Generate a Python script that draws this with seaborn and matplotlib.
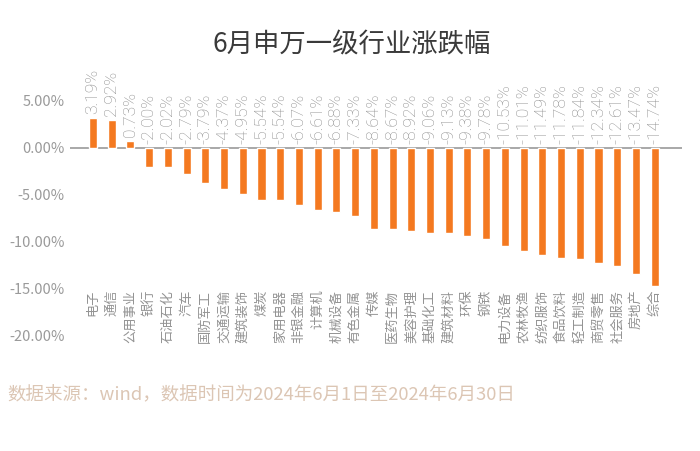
import pandas as pd
import numpy as np
import matplotlib.pyplot as plt
import seaborn as sns

# 申万一级行业 6月涨跌幅 (%)
industries = ["电子", "通信", "公用事业", "银行", "石油石化", "汽车", "国防军工", "交通运输",
              "建筑装饰", "煤炭", "家用电器", "非银金融", "计算机", "机械设备", "有色金属",
              "传媒", "医药生物", "美容护理", "基础化工", "建筑材料", "环保", "钢铁",
              "电力设备", "农林牧渔", "纺织服饰", "食品饮料", "轻工制造", "商贸零售",
              "社会服务", "房地产", "综合"]
changes = [3.19, 2.92, 0.73, -2.00, -2.02, -2.79, -3.79, -4.37,
           -4.95, -5.54, -5.54, -6.07, -6.61, -6.88, -7.33,
           -8.64, -8.67, -8.92, -9.06, -9.13, -9.38, -9.78,
           -10.53, -11.01, -11.49, -11.78, -11.84, -12.34,
           -12.61, -13.47, -14.74]
yticks = [5, 0, -5, -10, -15, -20]

df = pd.DataFrame({"industry": industries, "change": changes})

sns.set_style("white")
plt.rcParams['font.family'] = ['Noto Sans CJK SC', 'DejaVu Sans']

fig = plt.figure(figsize=(7, 4.51), dpi=100)
ax = fig.add_axes([0.1, 0.257, 0.874, 0.623])

sns.barplot(df, x="industry", y="change", color="#f47920", width=0.43,
            saturation=1, ax=ax)

ax.set_xlim(-1.23, 31.45)
ax.set_ylim(-20, 10)
ax.set_yticks(yticks)
ax.set_yticklabels([f"{t:.2f}%" for t in yticks], color="#9a9a9a", fontsize=10.5)
ax.tick_params(axis="y", length=0, pad=4)
ax.set_xticks([])
ax.set_xlabel("")
ax.set_ylabel("")
sns.despine(ax=ax, left=True, bottom=True)
ax.axhline(0, color="#a8a8a8", lw=1.4, zorder=0)

# 数值标签
for i, v in enumerate(changes):
    ax.text(i, max(v, 0) + 0.45, f"{v:.2f}%", rotation=90, ha="center", va="bottom",
            fontsize=12.5, color="#8a8a8a", family=["Roboto", "DejaVu Sans"],
            fontweight="light")

# 行业名称
for i, name in enumerate(industries):
    ax.text(i, -15.15, name, rotation=90, ha="center", va="top",
            fontsize=9.5, color="#939393")

fig.text(0.502, 0.9, "6月申万一级行业涨跌幅", ha="center", va="center",
         fontsize=19, color="#3a3a3a")
fig.text(0.011, 0.124, "数据来源：wind，数据时间为2024年6月1日至2024年6月30日",
         ha="left", va="center", fontsize=13.3, color="#dcc6b4")

fig.savefig("out.png", dpi=100)
